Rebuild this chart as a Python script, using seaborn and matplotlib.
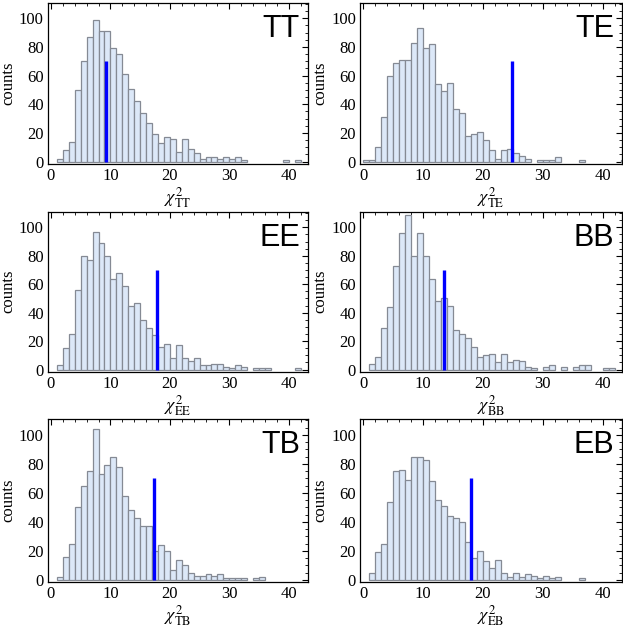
import numpy as np
import matplotlib
matplotlib.use('Agg')
import matplotlib.pyplot as plt
import seaborn as sns
from matplotlib.ticker import MultipleLocator

sns.set_style('white')
plt.rcParams['font.family'] = ['Liberation Serif', 'DejaVu Serif']
plt.rcParams['mathtext.fontset'] = 'stix'
plt.rcParams['text.color'] = 'black'
plt.rcParams['axes.labelcolor'] = 'black'
plt.rcParams['xtick.color'] = 'black'
plt.rcParams['ytick.color'] = 'black'

# counts per unit-width bin, bin i covers [i, i+1)
bin_edges = list(range(0, 45))
tt_counts = [0, 2, 8, 14, 50, 70, 87, 99, 91, 91, 79, 75, 61, 51, 42, 34, 27, 19, 13, 17,
             16, 7, 16, 9, 6, 2, 3, 3, 2, 3, 2, 3, 1, 0, 0, 0, 0, 0, 0, 1, 0, 1, 0, 0]
te_counts = [1, 1, 10, 31, 60, 69, 71, 71, 83, 93, 79, 82, 54, 49, 55, 37, 34, 18, 19, 21,
             15, 8, 2, 8, 9, 6, 4, 2, 0, 1, 1, 1, 3, 0, 0, 0, 1, 0, 0, 0, 0, 0, 0, 1]
ee_counts = [0, 3, 15, 25, 56, 80, 77, 97, 89, 80, 64, 68, 59, 45, 47, 35, 29, 24, 16, 18,
             8, 17, 8, 6, 8, 3, 3, 4, 4, 2, 1, 3, 2, 0, 1, 1, 1, 0, 0, 0, 0, 1, 0, 0]
bb_counts = [0, 4, 9, 29, 44, 73, 96, 109, 80, 96, 80, 64, 48, 50, 45, 28, 25, 22, 16, 9,
             10, 11, 5, 11, 5, 7, 6, 2, 1, 0, 2, 3, 0, 2, 0, 2, 3, 3, 0, 0, 1, 1, 0, 0]
tb_counts = [0, 2, 16, 25, 50, 65, 75, 104, 73, 79, 85, 78, 58, 48, 43, 37, 37, 20, 24, 20,
             7, 14, 10, 5, 3, 3, 4, 3, 4, 1, 1, 1, 1, 0, 1, 2, 0, 0, 0, 0, 0, 0, 0, 0]
eb_counts = [0, 5, 19, 25, 54, 75, 76, 69, 85, 85, 83, 68, 55, 51, 44, 43, 40, 26, 15, 20,
             13, 8, 14, 5, 2, 5, 2, 4, 3, 1, 3, 1, 2, 0, 0, 0, 1, 0, 0, 0, 0, 0, 0, 0]

spectra = ['TT', 'TE', 'EE', 'BB', 'TB', 'EB']
all_counts = [tt_counts, te_counts, ee_counts, bb_counts, tb_counts, eb_counts]
observed = [9.2, 24.9, 17.9, 13.5, 17.3, 18.1]
marker_height = 70

# axes boxes (left, bottom, width, height) in figure fractions
col_x = [(0.077, 0.417), (0.578, 0.420)]
row_y = [(0.740, 0.256), (0.410, 0.254), (0.076, 0.259)]

fig = plt.figure(figsize=(6.23, 6.30), dpi=100)

for k, (name, counts) in enumerate(zip(spectra, all_counts)):
    r, c = divmod(k, 2)
    ax = fig.add_axes([col_x[c][0], row_y[r][0], col_x[c][1], row_y[r][1]])
    centers = np.array(bin_edges[:-1]) + 0.5
    sns.histplot(x=centers, weights=counts, bins=bin_edges, ax=ax,
                 color='#dce8f8', alpha=1.0, edgecolor='#858a94', linewidth=0.9)
    for p in list(ax.patches):
        if p.get_height() == 0:
            p.remove()
    ax.vlines(observed[k], 0, marker_height, color='#0000ff', linewidth=2.4, zorder=5)

    ax.set_xlim(-0.5, 43.2)
    ax.set_ylim(-1.5, 111)
    ax.xaxis.set_major_locator(MultipleLocator(10))
    ax.xaxis.set_minor_locator(MultipleLocator(2))
    ax.yaxis.set_major_locator(MultipleLocator(20))
    ax.yaxis.set_minor_locator(MultipleLocator(5))
    ax.tick_params(which='both', direction='in', top=True, right=True,
                   labelsize=12, pad=3)
    ax.tick_params(which='major', length=4, width=0.8)
    ax.tick_params(which='minor', length=2, width=0.6)
    for s in ax.spines.values():
        s.set_color('black')
        s.set_linewidth(0.9)
    ax.set_ylabel('counts', fontsize=12, labelpad=2)
    ax.set_xlabel(r'$\chi^2_{\mathrm{%s}}$' % name, fontsize=13, labelpad=1)
    ax.text(0.97, 0.93, name, transform=ax.transAxes, ha='right', va='top',
            fontsize=22, color='black', family=['Liberation Sans', 'DejaVu Sans'])

fig.savefig('out.png', dpi=100)
